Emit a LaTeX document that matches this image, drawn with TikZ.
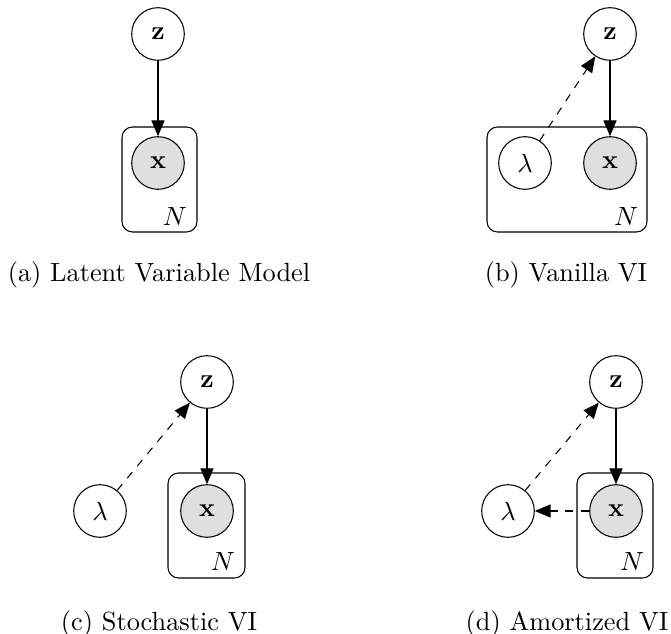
\documentclass[tikz,border=0pt]{standalone}
\usetikzlibrary{arrows.meta,fit}
\begin{document}
\begin{tikzpicture}[x=0.38pt,y=-0.38pt,
  latentnode/.style={circle,draw=black,fill=white,minimum size=20pt,inner sep=1pt,font=\fontsize{10}{10}\selectfont},
  obsnode/.style={latentnode,fill=gray!25},
  platebox/.style={draw=black,rounded corners=4pt,inner sep=0pt},
  edgearrow/.style={-{Triangle[length=6pt,width=5pt]}},
  varedge/.style={edgearrow,dashed},
  caplabel/.style={anchor=base,font=\fontsize{10}{12}\selectfont}]
\useasboundingbox (0,0) rectangle (671,634);
% (a)
\node[latentnode] (za) at (158,34) {$\mathbf{z}$};
\node[obsnode] (xa) at (158,163) {$\mathbf{x}$};
\coordinate (a1) at (122,127);
\coordinate (a2) at (197,232);
\node[platebox,fit=(a1)(a2)] (pa) {};
\node (Na) at (175,217) {$N$};
\draw[edgearrow] (za) -- (xa);
\node[caplabel] (capa) at (159,282) {(a) Latent Variable Model};
% (b)
\node[latentnode] (zb) at (610,34) {$\mathbf{z}$};
\node[obsnode] (xb) at (610,163) {$\mathbf{x}$};
\node[latentnode] (lb) at (525,163) {$\lambda$};
\coordinate (b1) at (487,127);
\coordinate (b2) at (647,232);
\node[platebox,fit=(b1)(b2)] (pb) {};
\node (Nb) at (626,217) {$N$};
\draw[edgearrow] (zb) -- (xb);
\draw[varedge] (lb) -- (zb);
\node[caplabel] (capb) at (566,282) {(b) Vanilla VI};
% (c)
\node[latentnode] (zc) at (207,382) {$\mathbf{z}$};
\node[obsnode] (xc) at (207,511) {$\mathbf{x}$};
\node[latentnode] (lc) at (100,511) {$\lambda$};
\coordinate (c1) at (168,473);
\coordinate (c2) at (245,578);
\node[platebox,fit=(c1)(c2)] (pc) {};
\node (Nc) at (223,562) {$N$};
\draw[edgearrow] (zc) -- (xc);
\draw[varedge] (lc) -- (zc);
\node[caplabel] (capc) at (159,630) {(c) Stochastic VI};
% (d)
\node[latentnode] (zd) at (616,382) {$\mathbf{z}$};
\node[obsnode] (xd) at (616,511) {$\mathbf{x}$};
\node[latentnode] (ld) at (508,511) {$\lambda$};
\coordinate (d1) at (577,473);
\coordinate (d2) at (653,578);
\node[platebox,fit=(d1)(d2)] (pd) {};
\node (Nd) at (632,562) {$N$};
\draw[edgearrow] (zd) -- (xd);
\draw[varedge] (ld) -- (zd);
\draw[varedge] (xd) -- (ld);
\node[caplabel] (capd) at (567,630) {(d) Amortized VI};
\end{tikzpicture}
\end{document}
